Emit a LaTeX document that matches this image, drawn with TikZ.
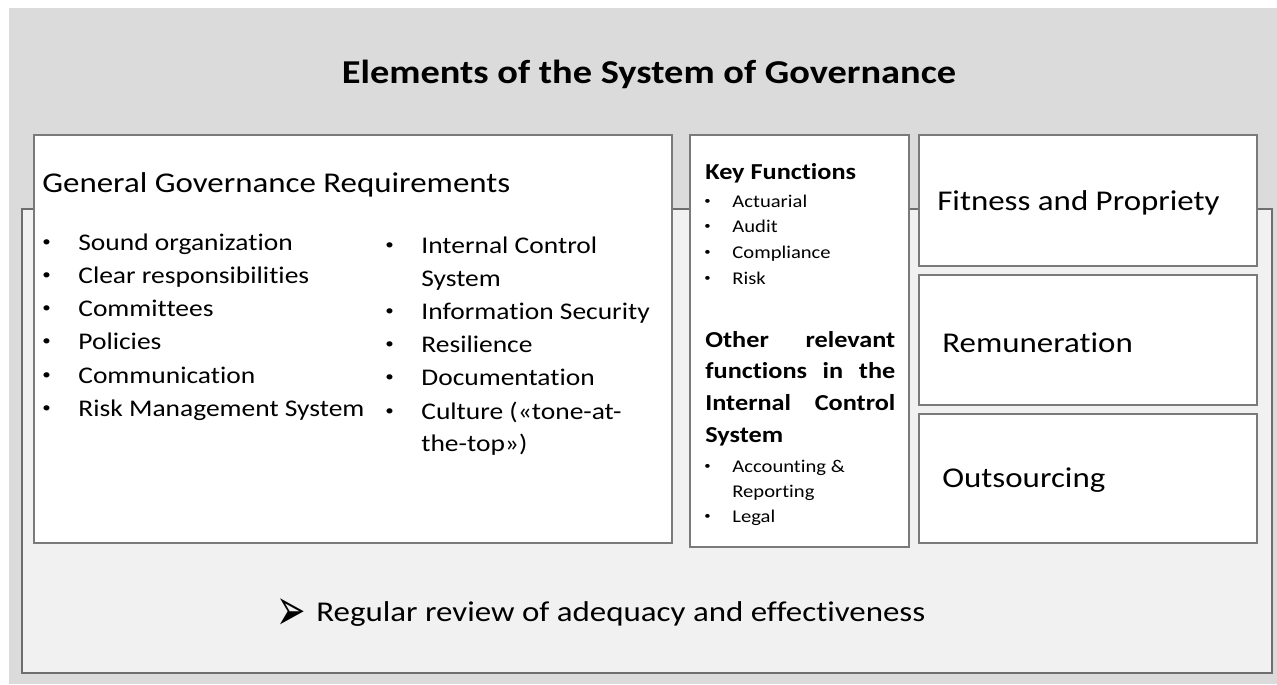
\documentclass[tikz,border=0pt]{standalone}
\usepackage{graphicx}
\usepackage{fontspec}
\setmainfont{Carlito}[FakeStretch=1.15, Ligatures=NoCommon]
\newfontfamily\symfont{DejaVu Sans}
\definecolor{bggray}{HTML}{DBDBDB}
\definecolor{lowgray}{HTML}{F1F1F1}
\definecolor{boxgray}{HTML}{7A7A7A}
\definecolor{edgegray}{HTML}{6E6E6E}
\newcommand{\bul}[1]{\makebox[#1][l]{\raisebox{0.13em}{\scalebox{0.62}{\textbullet}}}}

\begin{document}
\begin{tikzpicture}[x=0.02cm, y=-0.02cm,
    box/.style={draw=boxgray, line width=1pt, fill=white},
    title/.style={font=\bfseries\fontsize{19pt}{22pt}\selectfont, anchor=base, inner sep=0},
    head/.style={font=\fontsize{16.3pt}{19pt}\selectfont, anchor=base west, inner sep=0},
    item/.style={font=\fontsize{13.6pt}{16pt}\selectfont, anchor=base west, inner sep=0},
    khead/.style={font=\bfseries\fontsize{13pt}{15pt}\selectfont, anchor=base west, inner sep=0},
    kitem/.style={font=\fontsize{10.2pt}{12pt}\selectfont, anchor=base west, inner sep=0}]
  \useasboundingbox (0,0) rectangle (1277,684);
  % draw fills so lines sit on top of them
  \fill [bggray] (9,8) rectangle (1277,684);
  \draw [edgegray, line width=1.2pt, fill=lowgray] (22,209) rectangle (1272,673);
  % outlines
  \draw [box] (34,135) rectangle (672,543);
  \draw [box] (690,135) rectangle (909,547);
  \draw [box] (919,135) rectangle (1257,266);
  \draw [box] (919,275) rectangle (1257,405);
  \draw [box] (919,414) rectangle (1257,543);
  % title
  \node [title] (title) at (649,83) {Elements of the System of Governance};
  % general requirements
  \node [head] (ggr) at (42,192) {General Governance Requirements};
  \node [item] (gl1) at (42,250) {\bul{20.5pt}Sound organization};
  \node [item] (gl2) at (42,283) {\bul{20.5pt}Clear responsibilities};
  \node [item] (gl3) at (42,316) {\bul{20.5pt}Committees};
  \node [item] (gl4) at (42,349) {\bul{20.5pt}Policies};
  \node [item] (gl5) at (42,383) {\bul{20.5pt}Communication};
  \node [item] (gl6) at (42,416) {\bul{20.5pt}Risk Management System};
  \node [item] (gr1) at (385,253) {\bul{20.5pt}Internal Control};
  \node [item] (gr1b) at (421,286) {System};
  \node [item] (gr2) at (385,319) {\bul{20.5pt}Information Security};
  \node [item] (gr3) at (385,352) {\bul{20.5pt}Resilience};
  \node [item] (gr4) at (385,385) {\bul{20.5pt}Documentation};
  \node [item] (gr5) at (385,419) {\bul{20.5pt}Culture («tone-at-};
  \node [item] (gr5b) at (421,451) {the-top»)};
  % key functions
  \node [khead] (kf) at (705,179) {Key Functions};
  \node [kitem] (ka1) at (704,207) {\bul{16pt}Actuarial};
  \node [kitem] (ka2) at (704,232) {\bul{16pt}Audit};
  \node [kitem] (ka3) at (704,258) {\bul{16pt}Compliance};
  \node [kitem] (ka4) at (704,284) {\bul{16pt}Risk};
  % other functions
  \node [khead] (or1) at (705,347) {\makebox[3.8cm][s]{Other relevant}};
  \node [khead] (or2) at (705,378) {\makebox[3.8cm][s]{functions in the}};
  \node [khead] (or3) at (705,410) {\makebox[3.8cm][s]{Internal Control}};
  \node [khead] (or4) at (705,442) {System};
  \node [kitem] (ob1) at (704,472) {\bul{16pt}Accounting \&};
  \node [kitem] (ob1b) at (732,497) {Reporting};
  \node [kitem] (ob2) at (704,522) {\bul{16pt}Legal};
  % right column
  \node [head] (fit) at (937,210) {Fitness and Propriety};
  \node [head] (rem) at (942,352) {Remuneration};
  \node [head] (out) at (942,487) {Outsourcing};
  % review
  \node [head, font=\symfont\fontsize{20pt}{22pt}\selectfont] (arr) at (276,630) {\scalebox{1}[1.7]{➢}};
  \node [head] (rev) at (316,621) {Regular review of adequacy and effectiveness};
\end{tikzpicture}
\end{document}
